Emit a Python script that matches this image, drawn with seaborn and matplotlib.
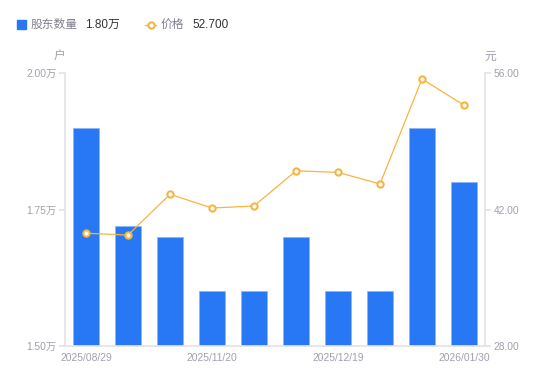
import matplotlib
matplotlib.use("Agg")
import matplotlib.pyplot as plt
import seaborn as sns
import numpy as np
import pandas as pd

dates = ["2025/08/29", "2025/09/30", "2025/10/31", "2025/11/20", "2025/11/30",
         "2025/12/10", "2025/12/19", "2025/12/31", "2026/01/20", "2026/01/30"]
holders = [1.90, 1.72, 1.70, 1.60, 1.60, 1.70, 1.60, 1.60, 1.90, 1.80]  # 万户
price = [39.56, 39.38, 43.56, 42.15, 42.36, 45.97, 45.81, 44.62, 55.38, 52.70]
shown_ticks = ["2025/08/29", "2025/11/20", "2025/12/19", "2026/01/30"]

sns.set_theme(style="white")
plt.rcParams["font.family"] = ["Liberation Sans", "Noto Sans CJK SC", "DejaVu Sans"]

BLUE = "#2878F5"
ORANGE = "#F7B53E"
GRID = "#E3E3E8"
TXT = "#A0A0AE"

df = pd.DataFrame({"date": dates, "holders": holders, "price": price})

fig = plt.figure(figsize=(5.5, 3.81), dpi=100)
ax = fig.add_axes([65 / 550, 1 - 346 / 381, 420 / 550, 273 / 381])

sns.barplot(data=df, x="date", y="holders", color=BLUE, width=0.6,
            edgecolor="#8DB6F8", linewidth=0.6, saturation=1, ax=ax)
ax.set_ylim(1.5, 2.0)
ax.set_xlim(-0.5, len(dates) - 0.5)
ax.set_yticks([1.5, 1.75, 2.0])
ax.set_yticklabels(["1.50万", "1.75万", "2.00万"])
idx = [dates.index(d) for d in shown_ticks]
ax.set_xticks(idx)
ax.set_xticklabels(shown_ticks)
ax.set_xlabel("")
ax.set_ylabel("")

ax2 = ax.twinx()
ax2.plot(range(len(price)), price, color=ORANGE, lw=0.9, marker="o", ms=4.5,
         mfc="white", mec=ORANGE, mew=1.5, zorder=5)
ax2.set_ylim(28, 56)
ax2.set_yticks([28, 42, 56])
ax2.set_yticklabels(["28.00", "42.00", "56.00"])

for a in (ax, ax2):
    for s in a.spines.values():
        s.set_visible(False)
    a.grid(False)
ax.spines["left"].set_visible(True)
ax.spines["left"].set_color(GRID)
ax.spines["bottom"].set_visible(True)
ax.spines["bottom"].set_color(GRID)
ax2.spines["right"].set_visible(True)
ax2.spines["right"].set_color(GRID)

ax.tick_params(axis="y", length=4, color=GRID, labelsize=7.4, labelcolor=TXT, pad=2, left=True)
ax.tick_params(axis="x", length=0, labelsize=7.4, labelcolor=TXT, pad=5)
ax2.tick_params(axis="y", length=4, color=GRID, labelsize=7.4, labelcolor=TXT, pad=2, right=True)

fig.text(60 / 550, 1 - 57 / 381, "户", fontsize=8.5, color=TXT, ha="center", va="center")
fig.text(490 / 550, 1 - 57 / 381, "元", fontsize=8.5, color=TXT, ha="center", va="center")

# legend
fig.patches.append(plt.Rectangle((17 / 550, 1 - 29 / 381), 9 / 550, 9 / 381,
                                 transform=fig.transFigure, color=BLUE, figure=fig))
fig.text(31 / 550, 1 - 24.5 / 381, "股东数量", fontsize=8.5, color="#808090", va="center")
fig.text(85 / 550, 1 - 24.5 / 381, "1.80万", fontsize=8.5, color="#333333", va="center")
fig.add_artist(plt.Line2D([145 / 550, 156 / 550], [1 - 24.5 / 381] * 2, transform=fig.transFigure,
                          color=ORANGE, lw=1))
fig.add_artist(plt.Line2D([150.5 / 550], [1 - 24.5 / 381], transform=fig.transFigure, marker="o",
                          ms=4.5, mfc="white", mec=ORANGE, mew=1.5))
fig.text(161 / 550, 1 - 24.5 / 381, "价格", fontsize=8.5, color="#808090", va="center")
fig.text(192 / 550, 1 - 24.5 / 381, "52.700", fontsize=8.5, color="#333333", va="center")

fig.savefig("out.png", dpi=100)
